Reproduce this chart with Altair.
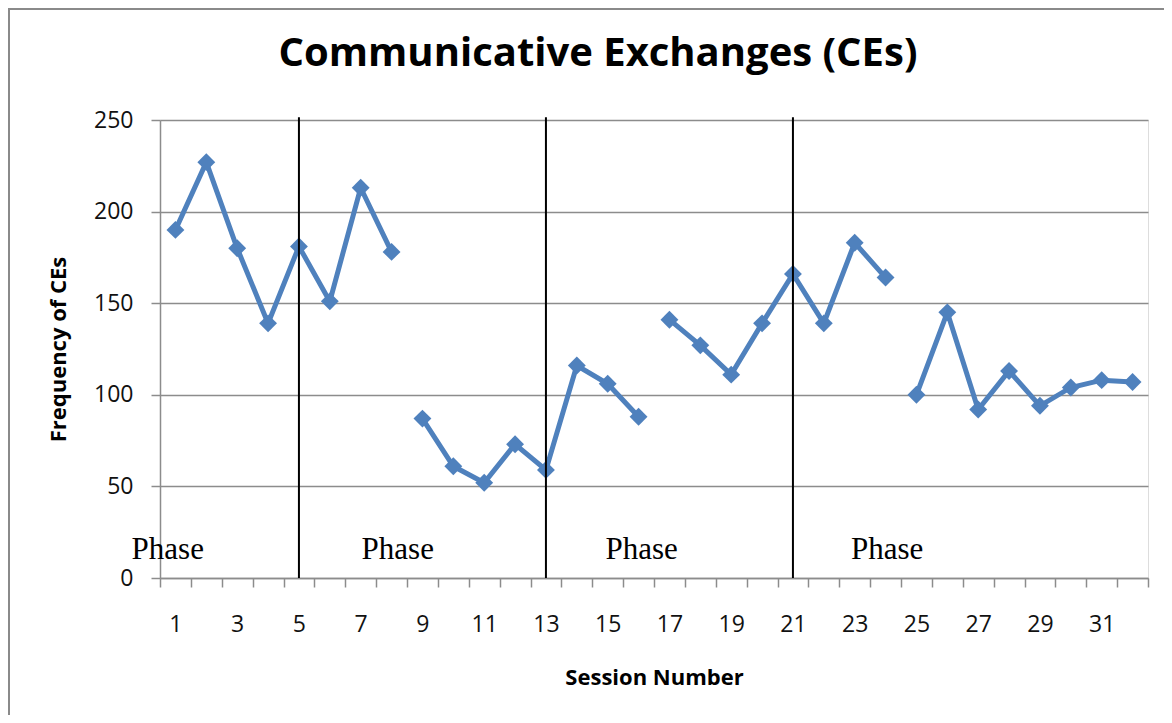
import altair as alt
import pandas as pd

# ---- data ----
sessions = list(range(1, 33))
ces = [190, 227, 180, 139, 181, 151, 213, 178,
       87, 61, 52, 73, 59, 116, 106, 88,
       141, 127, 111, 139, 166, 139, 183, 164,
       100, 145, 92, 113, 94, 104, 108, 107]
phase = [1] * 8 + [2] * 8 + [3] * 8 + [4] * 8
phase_change_sessions = [5, 13, 21]
phase_label_text = ["Phase", "Phase", "Phase", "Phase"]
phase_label_session = [0.75, 8.2, 16.1, 24.05]
phase_label_value = [10.5, 10.5, 10.5, 10.5]
y_ticks = [0, 50, 100, 150, 200, 250]

df = pd.DataFrame({"session": sessions, "ces": ces, "phase": phase})
rules_df = pd.DataFrame({"session": phase_change_sessions})
labels_df = pd.DataFrame({"session": phase_label_session, "ces": phase_label_value,
                          "txt": phase_label_text})

BLUE = "#4F81BD"
GRID = "#8C8C8C"
W, H = 988, 458

x_tick_values = [s - 0.5 for s in sessions] + [32.5]

x_enc = alt.X(
    "session:Q",
    title="Session Number",
    scale=alt.Scale(domain=[0.5, 32.5], nice=False, zero=False),
    axis=alt.Axis(
        values=x_tick_values,
        labelExpr="((datum.value + 0.5) % 2 == 1) && datum.value < 32 ? format(datum.value + 0.5, 'd') : ''",
        labelOffset=W / 64,
        labelOverlap=False,
        labelFlush=False,
        labelBound=False,
        grid=False,
        tickSize=9,
        tickColor=GRID,
        tickWidth=1.5,
        domainColor=GRID,
        domainWidth=1.5,
        labelFont="Open Sans",
        labelFontSize=23,
        labelColor="#111111",
        labelBaseline="alphabetic",
        labelPadding=44,
        titleFont="Open Sans",
        titleFontSize=22,
        titleFontWeight="bold",
        titleColor="black",
        titleBaseline="alphabetic",
        titleY=106,
    ),
)

y_enc = alt.Y(
    "ces:Q",
    title="Frequency of CEs",
    scale=alt.Scale(domain=[0, 250], nice=False),
    axis=alt.Axis(
        values=y_ticks,
        grid=True,
        gridColor=GRID,
        gridWidth=1.5,
        tickSize=9,
        tickColor=GRID,
        tickWidth=1.5,
        domainColor=GRID,
        domainWidth=1.5,
        labelFont="Open Sans",
        labelFontSize=23,
        labelColor="#111111",
        labelPadding=18,
        titleFont="Open Sans",
        titleFontSize=22,
        titleFontWeight="bold",
        titleColor="black",
        titleAngle=-90,
        titleBaseline="middle",
        titleAlign="center",
        titleX=-102,
        titleY=H / 2,
    ),
)

frame = alt.Chart(rules_df).mark_rect(
    fill="transparent", stroke="#8A8A8A", strokeWidth=2
).encode(
    x=alt.value(-151), x2=alt.value(1008), y=alt.value(-111), y2=alt.value(640)
)

line = alt.Chart(df).mark_line(color=BLUE, strokeWidth=5).encode(
    x=x_enc, y=y_enc, detail="phase:N"
)

points = alt.Chart(df).mark_point(
    shape="diamond", filled=True, size=320, color=BLUE, opacity=1
).encode(x=x_enc, y=y_enc)

rules = alt.Chart(rules_df).mark_rule(color="black", strokeWidth=2).encode(
    x=x_enc, y=alt.datum(0), y2=alt.datum(251.5)
)

phase_text = alt.Chart(labels_df).mark_text(
    font="Liberation Serif", fontSize=31, color="black",
    align="center", baseline="alphabetic"
).encode(x=x_enc, y=y_enc, text="txt:N")

chart = alt.layer(frame, line, points, rules, phase_text).properties(
    width=W,
    height=H,
    title=alt.Title(
        "Communicative Exchanges (CEs)",
        font="Open Sans",
        fontSize=40,
        fontWeight="bold",
        color="black",
        anchor="middle",
        baseline="alphabetic",
        dx=-56,
        dy=102,
    ),
    autosize=alt.AutoSizeParams(type="none"),
    padding={"left": 152, "top": 112, "right": 16, "bottom": 137},
).configure_view(stroke=None).configure(background="white")

chart.save("out.html", embed_options={"renderer": "svg", "actions": False})
